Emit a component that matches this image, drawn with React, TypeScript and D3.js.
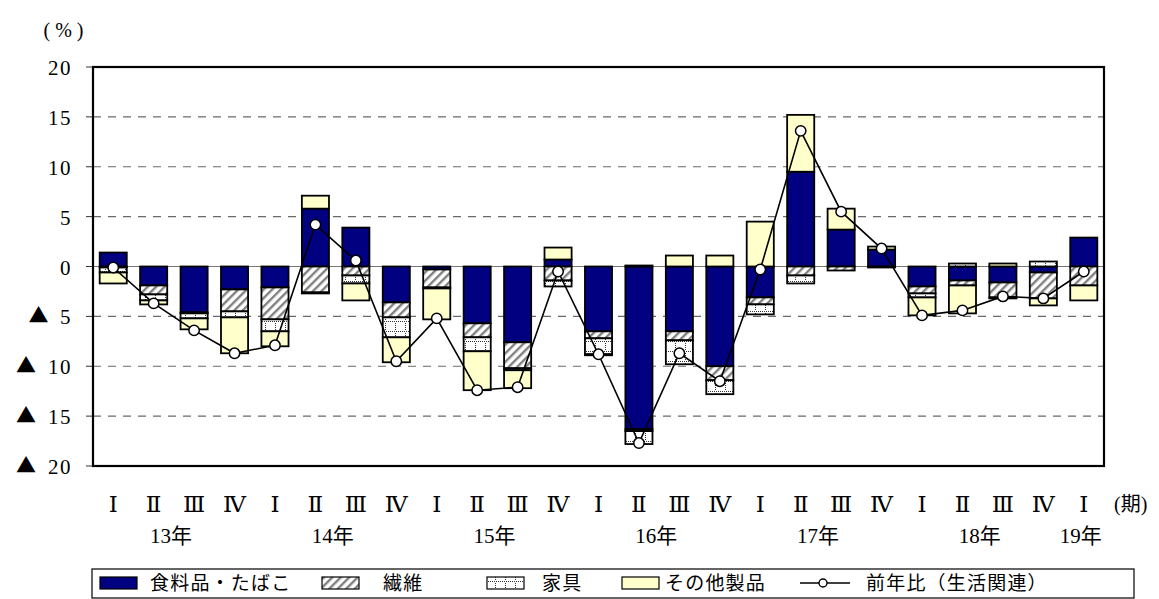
import * as d3 from "d3";

const width = 1159;
const height = 599;
const plot = { left: 93, right: 1104, top: 67, bottom: 466 };

// quarters 13年Ⅰ .. 19年Ⅰ
const quarters = ["Ⅰ", "Ⅱ", "Ⅲ", "Ⅳ", "Ⅰ", "Ⅱ", "Ⅲ", "Ⅳ", "Ⅰ", "Ⅱ", "Ⅲ", "Ⅳ", "Ⅰ", "Ⅱ", "Ⅲ", "Ⅳ", "Ⅰ", "Ⅱ", "Ⅲ", "Ⅳ", "Ⅰ", "Ⅱ", "Ⅲ", "Ⅳ", "Ⅰ"];
const years = ["13年", "14年", "15年", "16年", "17年", "18年", "19年"];

const food = [1.4, -1.9, -4.6, -2.3, -2.1, 5.8, 3.9, -3.6, -0.3, -5.7, -7.6, 0.7, -6.5, -16.3, -6.5, -10.0, -3.1, 9.5, 3.7, 1.7, -2.0, -1.4, -1.6, -0.6, 2.9];
const fiber = [-0.1, -0.9, -0.1, -2.2, -3.2, -2.6, -0.9, -1.5, -1.8, -1.4, -2.6, -1.4, -0.7, -0.2, -0.9, -1.4, -0.7, -0.9, -0.4, -0.1, -0.7, -0.5, -1.5, -2.6, -1.9];
const furniture = [-0.5, -0.6, -0.5, -0.6, -1.2, -0.1, -0.8, -2.0, -0.1, -1.4, -0.2, -0.6, -1.6, -1.3, -2.4, -1.4, -1.0, -0.8, 0, 0, -0.4, 0.3, -0.1, 0.5, 0];
const other = [-1.1, -0.4, -1.1, -3.6, -1.5, 1.3, -1.7, -2.5, -3.1, -3.9, -1.8, 1.2, -0.1, 0.1, 1.1, 1.1, 4.5, 5.7, 2.1, 0.3, -1.8, -2.8, 0.3, -0.7, -1.5];
const yoy = [-0.1, -3.7, -6.4, -8.7, -7.9, 4.2, 0.6, -9.5, -5.2, -12.4, -12.1, -0.5, -8.8, -17.7, -8.7, -11.5, -0.3, 13.6, 5.5, 1.8, -4.9, -4.4, -3.0, -3.2, -0.5];

const yTicks = [20, 15, 10, 5, 0, -5, -10, -15, -20];

const keys = ["food", "fiber", "furniture", "other"];
const labels = ["食料品・たばこ", "繊維", "家具", "その他製品"];
const fills = ["#000080", "url(#hatch)", "url(#dots)", "#FFFFCC"];

const rows = quarters.map((q, i) => ({
  i,
  food: food[i],
  fiber: fiber[i],
  furniture: furniture[i],
  other: other[i],
}));

const x = d3
  .scaleBand<number>()
  .domain(d3.range(quarters.length))
  .range([plot.left, plot.right])
  .paddingInner(0.33)
  .paddingOuter(0.165);

const y = d3.scaleLinear().domain([-20, 20]).range([plot.bottom, plot.top]);

const series = d3.stack<any>().keys(keys).offset(d3.stackOffsetDiverging)(rows);

const cx = (i: number) => (x(i) as number) + x.bandwidth() / 2;

const line = d3
  .line<number>()
  .x((d, i) => cx(i))
  .y((d) => y(d));

// each year's first quarter index
const yearStart = years.map((_, k) => k * 4);

const serif = "'Liberation Serif', 'DejaVu Serif', 'Noto Sans CJK JP', serif";
const gothic = "'Noto Sans CJK JP', sans-serif";

const legendX = [100, 322, 487, 622];
const legendTextX = [150, 383, 542, 665];

const App = () => {
  return (
    <svg
      width={width}
      height={height}
      style={{ position: "absolute", left: 0, top: 0, background: "#fff" }}
    >
      <defs>
        <pattern id="hatch" width="6" height="6" patternUnits="userSpaceOnUse" patternTransform="rotate(45)">
          <rect width="6" height="6" fill="#fff" />
          <rect x="0" y="0" width="2.4" height="6" fill="#808080" />
        </pattern>
        <pattern id="dots" width="10" height="10" patternUnits="userSpaceOnUse">
          <rect width="10" height="10" fill="#fff" />
          {d3.range(0, 10, 2).map((d) => (
            <rect key={"h" + d} x={d} y={1} width={1} height={1} fill="#333" />
          ))}
          {d3.range(3, 10, 2).map((d) => (
            <rect key={"v" + d} x={5} y={d} width={1} height={1} fill="#333" />
          ))}
        </pattern>
      </defs>

      <text x={66} y={37} textAnchor="middle" fontFamily={serif} fontSize={20} letterSpacing={5}>
        (%)
      </text>

      {/* grid */}
      {yTicks.filter((t) => t !== 0 && Math.abs(t) !== 20).map((t) => (
        <line
          key={t}
          x1={plot.left}
          x2={plot.right}
          y1={y(t)}
          y2={y(t)}
          stroke="#6a6a6a"
          strokeWidth={1.2}
          strokeDasharray="8,7"
        />
      ))}
      {yTicks.map((t) => (
        <line key={"tk" + t} x1={plot.left - 7} x2={plot.left} y1={y(t)} y2={y(t)} stroke="#333" strokeWidth={1} />
      ))}
      <line x1={plot.left} x2={plot.right} y1={y(0)} y2={y(0)} stroke="#777" strokeWidth={1.2} />

      {/* y labels */}
      {yTicks.map((t) => {
        const num = `${Math.abs(t)}`;
        return (
          <g key={"yl" + t}>
            <text x={72} y={y(t) + 8} textAnchor="end" fontFamily={serif} fontSize={21} letterSpacing={1.5}>
              {num}
            </text>
            {t < 0 && (
              <text
                x={72 - num.length * 12.5 - 11}
                y={y(t) + 7}
                textAnchor="end"
                fontFamily={gothic}
                fontSize={20}
              >
                ▲
              </text>
            )}
          </g>
        );
      })}

      {/* bars */}
      {series.map((s, k) => (
        <g key={s.key}>
          {s.map((d, i) =>
            d[1] - d[0] === 0 ? null : (
              <rect
                key={i}
                x={x(i)}
                y={y(d[1])}
                width={x.bandwidth()}
                height={y(d[0]) - y(d[1])}
                fill={fills[k]}
                stroke="#000"
                strokeWidth={1.8}
              />
            )
          )}
        </g>
      ))}

      {/* yoy line */}
      <path d={line(yoy) as string} fill="none" stroke="#000" strokeWidth={1.6} />
      {yoy.map((v, i) => (
        <circle key={i} cx={cx(i)} cy={y(v)} r={5.2} fill="#fff" stroke="#000" strokeWidth={1.5} />
      ))}

      {/* frame */}
      <rect
        x={plot.left}
        y={plot.top}
        width={plot.right - plot.left}
        height={plot.bottom - plot.top}
        fill="none"
        stroke="#000"
        strokeWidth={2.2}
      />

      {/* x labels */}
      {quarters.map((q, i) => (
        <text key={"q" + i} x={cx(i)} y={512} textAnchor="middle" fontFamily={serif} fontSize={23}>
          {q}
        </text>
      ))}
      <text x={1114} y={511} fontFamily={serif} fontSize={20}>
        (期)
      </text>
      {years.map((yr, k) => {
        const s = yearStart[k];
        const e = Math.min(s + 3, quarters.length - 1);
        return (
          <text
            key={yr}
            x={(cx(s) + cx(e)) / 2 - 3}
            y={543}
            textAnchor="middle"
            fontFamily={serif}
            fontSize={21}
          >
            {yr}
          </text>
        );
      })}

      {/* legend */}
      <rect x={92} y={569} width={1042} height={29} fill="#fff" stroke="#000" strokeWidth={1.2} />
      {keys.map((key, k) => (
        <g key={key}>
          <rect x={legendX[k]} y={577} width={37} height={12} fill={fills[k]} stroke="#000" strokeWidth={1.2} />
          <text x={legendTextX[k]} y={590} fontFamily={gothic} fontSize={19} letterSpacing={1.2}>
            {labels[k]}
          </text>
        </g>
      ))}
      <line x1={800} x2={850} y1={583} y2={583} stroke="#000" strokeWidth={1.6} />
      <circle cx={823} cy={583} r={4} fill="#fff" stroke="#000" strokeWidth={1.4} />
      <text x={866} y={590} fontFamily={gothic} fontSize={19} letterSpacing={1.2}>
        前年比（生活関連）
      </text>
    </svg>
  );
};

export default App;
